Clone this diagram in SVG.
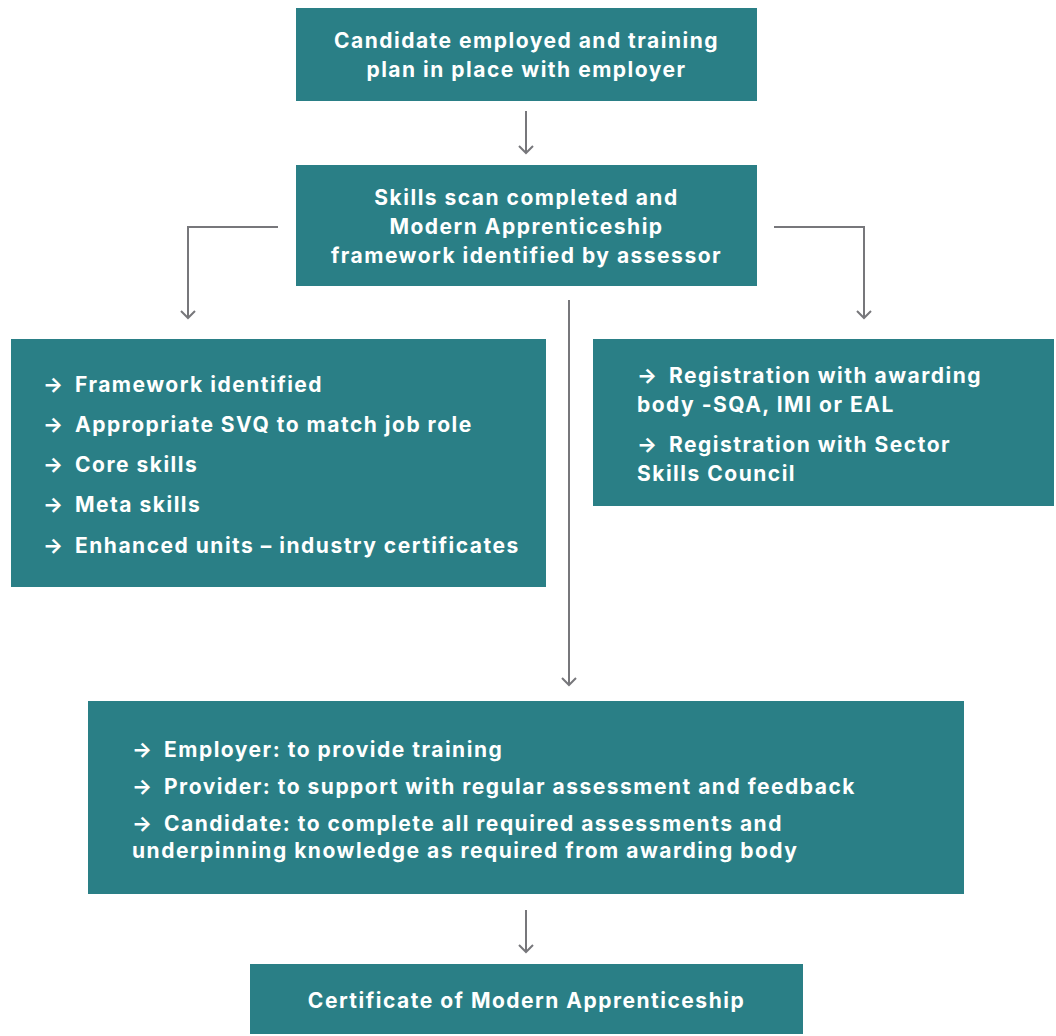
<svg xmlns="http://www.w3.org/2000/svg" width="1056" height="1036" viewBox="0 0 1056 1036">
<style>
.box{fill:#2a7f86}
.t{font-family:Inter,"Liberation Sans",sans-serif;font-weight:700;font-size:21px;letter-spacing:1.5px;fill:#fff}
.a{font-family:Inter,"Liberation Sans",sans-serif;font-weight:700;font-size:21px;fill:#fff}
.c{text-anchor:middle}
.ln{fill:none;stroke:#77777b;stroke-width:2}
</style>
<defs>
<path id="ah" d="M-7,-7 L0,0 L7,-7" fill="none" stroke="#77777b" stroke-width="2"/>
</defs>
<rect width="1056" height="1036" fill="#fff"/>
<g id="connectors">
<path class="ln" d="M526,111 V152"/><use href="#ah" x="526" y="153"/>
<path class="ln" d="M278,227 H188 V317"/><use href="#ah" x="188" y="318"/>
<path class="ln" d="M774,227 H864 V317"/><use href="#ah" x="864" y="318"/>
<path class="ln" d="M569,300 V684"/><use href="#ah" x="569" y="685"/>
<path class="ln" d="M526,910 V951"/><use href="#ah" x="526" y="952"/>
</g>
<g id="n1"><rect class="box" x="296" y="8" width="461" height="93"/>
<text class="t c" x="526.5" y="48">Candidate employed and training</text>
<text class="t c" x="526.5" y="77">plan in place with employer</text></g>
<g id="n2"><rect class="box" x="296" y="165" width="461" height="121"/>
<text class="t c" x="526.5" y="205">Skills scan completed and</text>
<text class="t c" x="526.5" y="234">Modern Apprenticeship</text>
<text class="t c" x="526.5" y="263">framework identified by assessor</text></g>
<g id="n3"><rect class="box" x="11" y="339" width="535" height="248"/>
<text class="a" x="43" y="392">→</text><text class="t" x="75" y="392">Framework identified</text>
<text class="a" x="43" y="432">→</text><text class="t" x="75" y="432">Appropriate SVQ to match job role</text>
<text class="a" x="43" y="472">→</text><text class="t" x="75" y="472">Core skills</text>
<text class="a" x="43" y="512">→</text><text class="t" x="75" y="512">Meta skills</text>
<text class="a" x="43" y="553">→</text><text class="t" x="75" y="553">Enhanced units – industry certificates</text></g>
<g id="n4"><rect class="box" x="593" y="339" width="461" height="167"/>
<text class="a" x="637" y="383">→</text><text class="t" x="669" y="383">Registration with awarding</text>
<text class="t" x="637" y="412">body -SQA, IMI or EAL</text>
<text class="a" x="637" y="452">→</text><text class="t" x="669" y="452">Registration with Sector</text>
<text class="t" x="637" y="481">Skills Council</text></g>
<g id="n5"><rect class="box" x="88" y="701" width="876" height="193"/>
<text class="a" x="132" y="757">→</text><text class="t" x="164" y="757">Employer: to provide training</text>
<text class="a" x="132" y="794">→</text><text class="t" x="164" y="794">Provider: to support with regular assessment and feedback</text>
<text class="a" x="132" y="831">→</text><text class="t" x="164" y="831">Candidate: to complete all required assessments and</text>
<text class="t" x="132" y="858">underpinning knowledge as required from awarding body</text></g>
<g id="n6"><rect class="box" x="250" y="964" width="553" height="70"/>
<text class="t c" x="526.5" y="1008">Certificate of Modern Apprenticeship</text></g>
</svg>
